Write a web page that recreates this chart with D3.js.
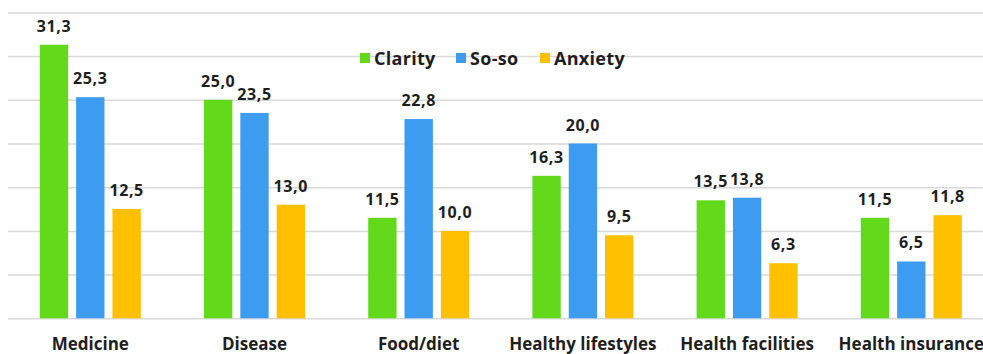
<!DOCTYPE html>
<html>
<head>
<meta charset="utf-8">
<script src="https://cdn.jsdelivr.net/npm/d3@7"></script>
<style>
  body { margin: 0; background: #fff; }
  svg { display: block; }
  text { font-family: "Open Sans", sans-serif; font-weight: bold; fill: #1e1e1e; }
</style>
</head>
<body>
<svg id="chart"></svg>
<script>
const W = 983, H = 354

const categories = ['Medicine', 'Disease', 'Food/diet', 'Healthy lifestyles', 'Health facilities', 'Health insurance']
const series = ['Clarity', 'So-so', 'Anxiety']
const clarity = [31.3, 25.0, 11.5, 16.3, 13.5, 11.5]
const soso = [25.3, 23.5, 22.8, 20.0, 13.8, 6.5]
const anxiety = [12.5, 13.0, 10.0, 9.5, 6.3, 11.8]
const yTicks = [0, 5, 10, 15, 20, 25, 30, 35]
const colors = ['#63d91c', '#3e9cf0', '#ffc000']

const values = [clarity, soso, anxiety]
const data = categories.map((c, i) => ({
    category: c,
    vals: series.map((s, j) => ({ key: s, value: values[j][i], color: colors[j] }))
}))

const locale = d3.formatLocale({ decimal: ',', thousands: '.', grouping: [3], currency: ['', ''] })
const fmt = locale.format('.1f')

let svg = d3.select('#chart')
    .attr('width', W)
    .attr('height', H)

let y = d3.scaleLinear()
    .domain([0, 35])
    .range([318.3, 12.4])

let x0 = d3.scaleBand()
    .domain(categories)
    .range([8.2, 993.4])

let x1 = d3.scaleBand()
    .domain(series)
    .range([31.6, 132.6])
    .paddingInner(0.22)

// grid lines
let grid = svg.append('g')
    .attr('transform', 'translate(8,0)')
    .call(d3.axisLeft(y).tickValues(yTicks).tickSize(-(W - 8)).tickFormat(''))
grid.select('.domain').remove()
grid.selectAll('.tick line')
    .attr('stroke', '#d9d9d9')
    .attr('stroke-width', 1.5)

// bars
let groups = svg.append('g')
    .selectAll('g')
    .data(data)
    .join('g')
    .attr('transform', d => 'translate(' + x0(d.category) + ',0)')

groups.selectAll('rect')
    .data(d => d.vals)
    .join('rect')
    .attr('x', d => x1(d.key))
    .attr('y', d => y(d.value))
    .attr('width', x1.bandwidth())
    .attr('height', d => y(0) - y(d.value))
    .attr('fill', d => d.color)

groups.selectAll('text')
    .data(d => d.vals)
    .join('text')
    .attr('x', d => x1(d.key) + x1.bandwidth() / 2)
    .attr('y', d => y(d.value) - 13)
    .attr('text-anchor', 'middle')
    .style('font-size', '16px')
    .style('letter-spacing', '0.6px')
    .text(d => fmt(d.value))

// category labels
svg.append('g')
    .selectAll('text')
    .data(categories)
    .join('text')
    .attr('x', d => x0(d) + x0.bandwidth() / 2)
    .attr('y', 349.5)
    .attr('text-anchor', 'middle')
    .style('font-size', '17px')
    .text(d => d)

// legend
let legendX = [360, 456, 540]
let legend = svg.append('g')
    .selectAll('g')
    .data(series)
    .join('g')
    .attr('transform', (d, i) => 'translate(' + legendX[i] + ',53)')

legend.append('rect')
    .attr('width', 10)
    .attr('height', 10)
    .attr('fill', (d, i) => colors[i])

legend.append('text')
    .attr('x', 14)
    .attr('y', 11.5)
    .style('font-size', '18px')
    .style('letter-spacing', '0.3px')
    .text(d => d)
</script>
</body>
</html>
